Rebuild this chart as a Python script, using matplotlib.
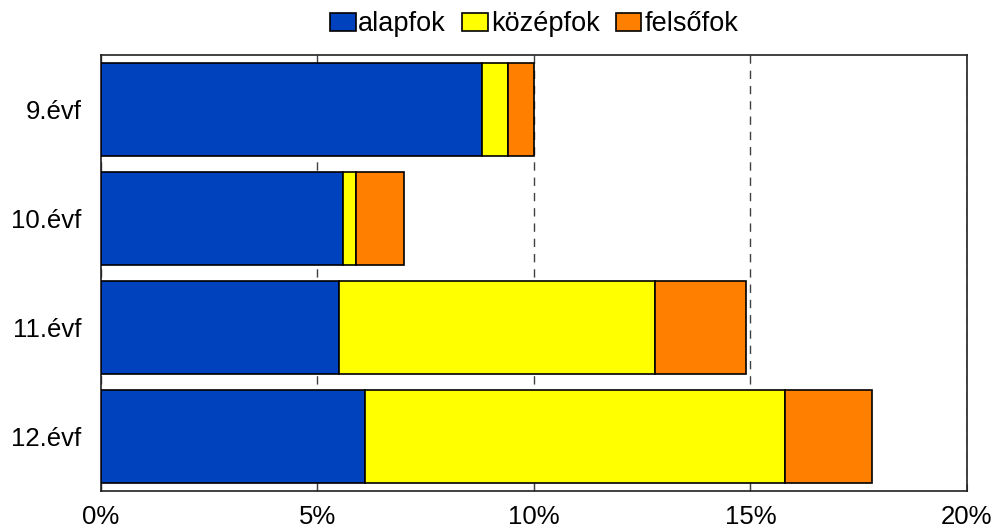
import numpy as np
import matplotlib.pyplot as plt

plt.rcParams['font.family'] = ['Liberation Sans', 'DejaVu Sans']

# data (percent)
categories = ["9.évf", "10.évf", "11.évf", "12.évf"]
alapfok = [8.8, 5.6, 5.5, 6.1]
kozepfok = [0.6, 0.3, 7.3, 9.7]
felsofok = [0.6, 1.1, 2.1, 2.0]
series_names = ["alapfok", "középfok", "felsőfok"]
colors = ["#0041BE", "#FFFF00", "#FF8000"]
xticks = [0, 5, 10, 15, 20]

fig = plt.figure(figsize=(9.94, 5.32), dpi=100)
ax = fig.add_axes([0.1016, 0.0771, 0.8712, 0.8195])

y = np.arange(len(categories))
left = np.zeros(len(categories))
for name, vals, c in zip(series_names, [alapfok, kozepfok, felsofok], colors):
    ax.barh(y, vals, left=left, height=0.845, color=c, edgecolor="black",
            linewidth=1.2, label=name, zorder=3)
    left += np.array(vals)

ax.set_xlim(0, 20)
ax.set_ylim(3.5, -0.5)
ax.set_yticks(y)
ax.set_yticklabels(categories, fontsize=18.5)
ax.set_xticks(xticks)
ax.set_xticklabels([f"{t}%" for t in xticks], fontsize=18.5)
ax.tick_params(axis="y", length=0, pad=14)
ax.tick_params(axis="x", direction="in", length=5, pad=10, color="#404040")
ax.grid(axis="x", linestyle=(0, (6, 5)), color="#404040", linewidth=1, zorder=0)
for s in ax.spines.values():
    s.set_color("#202020")
    s.set_linewidth(1.2)

ax.legend(loc="lower center", bbox_to_anchor=(0.5, 1.0), ncol=3, frameon=False,
          fontsize=19.5, handlelength=0.95, handleheight=0.65, handletextpad=0.1,
          columnspacing=0.6, borderaxespad=0.25)

fig.savefig("out.png", dpi=100)
